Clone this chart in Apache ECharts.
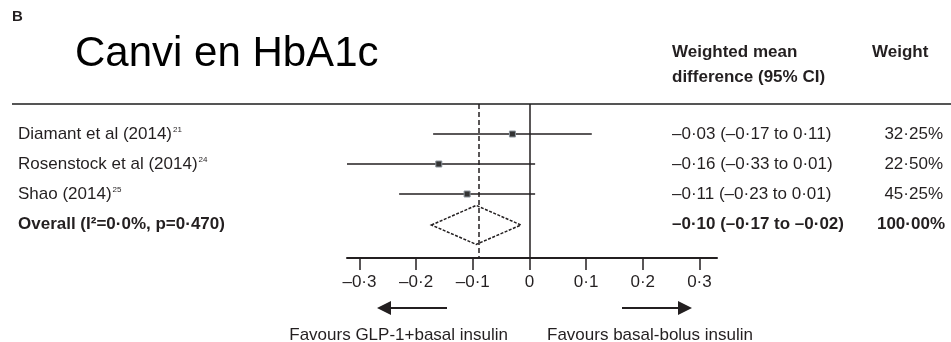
<!DOCTYPE html>
<html><head><meta charset="utf-8">
<script src="https://cdn.jsdelivr.net/npm/echarts@6/dist/echarts.min.js"></script>
<style>html,body{margin:0;padding:0;background:#fff}#c{width:951px;height:342px}</style>
</head><body><div id="c"></div>
<script>
// ---- data ----
const studies = ['Diamant et al (2014)', 'Rosenstock et al (2014)', 'Shao (2014)'];
const refs = ['21', '24', '25'];
const estimates = [-0.03, -0.16, -0.11];
const lowerCI = [-0.17, -0.33, -0.23];
const upperCI = [0.11, 0.01, 0.01];
const wmdText = ['–0·03 (–0·17 to 0·11)', '–0·16 (–0·33 to 0·01)', '–0·11 (–0·23 to 0·01)'];
const weightText = ['32·25%', '22·50%', '45·25%'];
const overallLabel = 'Overall (I²=0·0%, p=0·470)';
const overallEst = -0.094;
const overallLower = -0.173;
const overallUpper = -0.015;
const overallWmdText = '–0·10 (–0·17 to –0·02)';
const overallWeightText = '100·00%';
const tickValues = [-0.3, -0.2, -0.1, 0, 0.1, 0.2, 0.3];
const rows = [1, 2, 3];
const overallRow = 4;

const INK = '#231f20';
const FONT = '"Liberation Sans", Arial, sans-serif';
const fmt = v => (v < 0 ? '–' : '') + String(Math.round(Math.abs(v) * 10) / 10).replace('.', '·');

const chart = echarts.init(document.getElementById('c'));

const studyData = studies.map((s, i) => [estimates[i], rows[i], lowerCI[i], upperCI[i], i]);

const option = {
  animation: false,
  backgroundColor: '#fff',
  grid: { left: 347, right: 234, top: 104, bottom: 84, containLabel: false },
  xAxis: {
    type: 'value', min: -0.322, max: 0.331, position: 'bottom',
    axisLine: { show: true, onZero: false, lineStyle: { color: INK, width: 2 } },
    axisTick: { show: true, customValues: tickValues, length: 12, lineStyle: { color: INK, width: 1.5 } },
    axisLabel: { customValues: tickValues, formatter: fmt, margin: 16, color: INK, fontSize: 17, fontFamily: FONT },
    splitLine: { show: false }
  },
  yAxis: { type: 'value', min: 0, max: 5.133, inverse: true, show: false },
  graphic: [
    { type: 'text', left: 12, top: 9, style: { text: 'B', font: 'bold 15px ' + FONT, fill: INK } },
    { type: 'text', x: 75, y: 54, style: { text: 'Canvi en HbA1c', font: '42px ' + FONT, fill: '#000', verticalAlign: 'middle' } },
    { type: 'text', x: 672, y: 52, style: { text: 'Weighted mean', font: 'bold 17px ' + FONT, fill: INK, verticalAlign: 'middle' } },
    { type: 'text', x: 672, y: 77, style: { text: 'difference (95% CI)', font: 'bold 17px ' + FONT, fill: INK, verticalAlign: 'middle' } },
    { type: 'text', x: 872, y: 52, style: { text: 'Weight', font: 'bold 17px ' + FONT, fill: INK, verticalAlign: 'middle' } },
    { type: 'line', shape: { x1: 12, y1: 104, x2: 951, y2: 104 }, style: { stroke: '#555', lineWidth: 2 } },
    // arrows
    { type: 'line', shape: { x1: 447, y1: 308, x2: 388, y2: 308 }, style: { stroke: INK, lineWidth: 2 } },
    { type: 'polygon', shape: { points: [[377, 308], [391, 301], [391, 315]] }, style: { fill: INK } },
    { type: 'line', shape: { x1: 622, y1: 308, x2: 681, y2: 308 }, style: { stroke: INK, lineWidth: 2 } },
    { type: 'polygon', shape: { points: [[692, 308], [678, 301], [678, 315]] }, style: { fill: INK } },
    { type: 'text', x: 508, y: 335, style: { text: 'Favours GLP-1+basal insulin', font: '17px ' + FONT, fill: INK, align: 'right', verticalAlign: 'middle' } },
    { type: 'text', x: 547, y: 335, style: { text: 'Favours basal-bolus insulin', font: '17px ' + FONT, fill: INK, align: 'left', verticalAlign: 'middle' } }
  ],
  series: [
    {
      type: 'line', data: [], silent: true,
      markLine: {
        silent: true, symbol: 'none', label: { show: false },
        data: [
          { xAxis: 0, lineStyle: { color: INK, width: 1.5, type: 'solid' } },
          { xAxis: overallEst, lineStyle: { color: INK, width: 1.5, type: [5, 3] } }
        ]
      }
    },
    {
      type: 'custom', clip: true, data: studyData,
      encode: { x: [0, 2, 3], y: 1 },
      renderItem(params, api) {
        const y = api.value(1);
        const p1 = api.coord([api.value(2), y]);
        const p2 = api.coord([api.value(3), y]);
        const pc = api.coord([api.value(0), y]);
        const s = 6;
        return { type: 'group', children: [
          { type: 'line', shape: { x1: p1[0], y1: p1[1], x2: p2[0], y2: p2[1] }, style: { stroke: INK, lineWidth: 1.5 } },
          { type: 'rect', shape: { x: pc[0] - s / 2, y: pc[1] - s / 2, width: s, height: s }, style: { fill: '#333', stroke: '#8c949c', lineWidth: 1 } }
        ] };
      }
    },
    {
      type: 'custom', clip: true, data: [[overallEst, overallRow, overallLower, overallUpper]],
      encode: { x: [0, 2, 3], y: 1 },
      renderItem(params, api) {
        const y = api.value(1);
        const l = api.coord([api.value(2), y]);
        const r = api.coord([api.value(3), y]);
        const t = api.coord([api.value(0), y - 0.62]);
        const b = api.coord([api.value(0), y + 0.68]);
        return { type: 'polygon', shape: { points: [[l[0], l[1] + 1], [t[0], t[1]], [r[0], r[1] + 1], [b[0], b[1]]] },
          style: { fill: '#fff', stroke: INK, lineWidth: 1.5, lineDash: [3, 1.5] } };
      }
    },
    {
      type: 'custom', clip: false, silent: true,
      data: studies.map((s, i) => [0, rows[i], i]).concat([[0, overallRow, -1]]),
      encode: { x: 0, y: 1 },
      renderItem(params, api) {
        const i = api.value(2);
        const y = api.coord([0, api.value(1)])[1];
        const bold = i < 0;
        const f = (bold ? 'bold ' : '') + '17px ' + FONT;
        const lab = bold ? overallLabel : '{n|' + studies[i] + '}{s|' + refs[i] + '}';
        return { type: 'group', children: [
          { type: 'text', style: { x: 18, y: y, text: lab, font: f, fill: INK, verticalAlign: 'middle',
              rich: { n: { fontSize: 17, fontFamily: FONT, color: INK }, s: { fontSize: 8, fontFamily: FONT, color: INK, verticalAlign: 'top', padding: [0, 0, 8, 1] } } } },
          { type: 'text', style: { x: 672, y: y, text: bold ? overallWmdText : wmdText[i], font: f, fill: INK, verticalAlign: 'middle' } },
          { type: 'text', style: { x: bold ? 945 : 943, y: y, text: bold ? overallWeightText : weightText[i], font: f, fill: INK, align: 'right', verticalAlign: 'middle' } }
        ] };
      }
    }
  ]
};
chart.setOption(option);
</script>
</body></html>
